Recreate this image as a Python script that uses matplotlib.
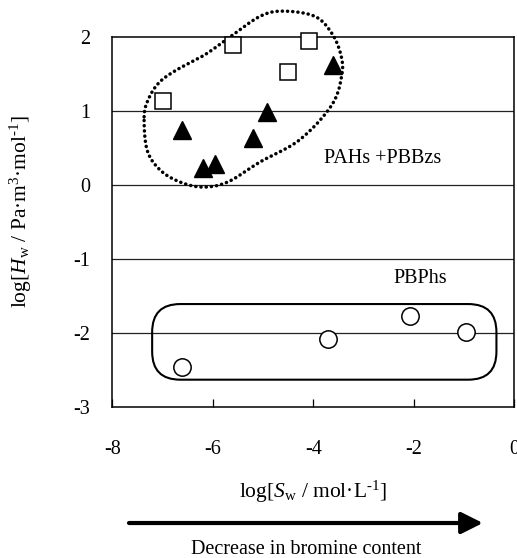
import numpy as np
import matplotlib
matplotlib.use('Agg')
import matplotlib.pyplot as plt
from matplotlib.patches import FancyBboxPatch, FancyArrowPatch, ArrowStyle

plt.rcParams['font.family'] = ['Liberation Serif', 'DejaVu Serif']
plt.rcParams['mathtext.fontset'] = 'custom'
plt.rcParams['mathtext.rm'] = 'Liberation Serif'
plt.rcParams['mathtext.it'] = 'Liberation Serif:italic'
plt.rcParams['axes.unicode_minus'] = False

# data: log Sw, log Hw
pah_x = [-6.99, -5.59, -4.51, -4.08]
pah_y = [1.14, 1.89, 1.52, 1.94]
pbbz_x = [-6.61, -6.19, -5.96, -5.20, -4.93, -3.61]
pbbz_y = [0.74, 0.23, 0.28, 0.63, 0.98, 1.62]
pbph_x = [-6.61, -3.70, -2.07, -0.96]
pbph_y = [-2.46, -2.08, -1.77, -1.99]

xticks = [-8, -6, -4, -2, 0]
yticks = [-3, -2, -1, 0, 1, 2]

# outline of the PAHs + PBBzs group (hand-drawn loop)
loop_x = [-7.37, -7.29, -7.09, -6.76, -6.16, -5.66, -5.06, -4.60, -3.97, -3.63,
          -3.45, -3.43, -3.63, -4.27, -5.06, -5.70, -6.20, -6.66, -7.05, -7.31]
loop_y = [0.92, 1.15, 1.37, 1.54, 1.76, 2.00, 2.28, 2.35, 2.28, 2.05,
          1.76, 1.49, 1.08, 0.61, 0.31, 0.04, -0.03, 0.04, 0.20, 0.47]


def closed_spline(xs, ys, n=30):
    p = np.column_stack([xs, ys])
    m = len(p)
    out = []
    t = np.linspace(0, 1, n, endpoint=False)[:, None]
    for i in range(m):
        p0, p1, p2, p3 = p[i - 1], p[i], p[(i + 1) % m], p[(i + 2) % m]
        seg = 0.5 * ((2 * p1) + (-p0 + p2) * t + (2 * p0 - 5 * p1 + 4 * p2 - p3) * t ** 2
                     + (-p0 + 3 * p1 - 3 * p2 + p3) * t ** 3)
        out.append(seg)
    out = np.vstack(out)
    out = np.vstack([out, out[:1]])
    return out[:, 0], out[:, 1]


fig = plt.figure(figsize=(5.17, 5.58), dpi=100)
ax = fig.add_axes([0.2176, 0.2712, 0.7766, 0.6625])

ax.set_xlim(-8, 0)
ax.set_ylim(-3, 2)
ax.set_xticks(xticks)
ax.set_yticks(yticks)
ax.set_xticklabels([str(v) for v in xticks])
ax.set_yticklabels([str(v) for v in yticks])
for v in yticks[1:-1]:
    ax.axhline(v, color='#222222', lw=0.9, zorder=1)

for s in ax.spines.values():
    s.set_linewidth(1.1)
ax.tick_params(axis='x', direction='in', length=6, width=0.9, pad=24, labelsize=14.5)
ax.tick_params(axis='y', length=0, pad=16, labelsize=14.5)

ax.plot(pah_x, pah_y, 's', ms=11.5, mfc='white', mec='black', mew=1.1, zorder=4, clip_on=False)
ax.plot(pbbz_x, pbbz_y, '^', ms=13, mfc='black', mec='black', mew=1, zorder=4)
ax.plot(pbph_x, pbph_y, 'o', ms=12.5, mfc='white', mec='black', mew=1.1, zorder=4)

lx, ly = closed_spline(loop_x, loop_y)
ax.plot(lx, ly, color='black', lw=2.5, linestyle=(0, (0.05, 1.45)),
        dash_capstyle='round', solid_capstyle='round', clip_on=False, zorder=3)

box = FancyBboxPatch((-7.21, -2.635), 6.86, 1.023,
                     boxstyle='round,pad=0,rounding_size=0.56',
                     mutation_aspect=0.678, fc='none', ec='black', lw=1.5, zorder=3)
ax.add_patch(box)

ax.text(-2.62, 0.36, 'PAHs +PBBzs', fontsize=14.5, ha='center', va='center')
ax.text(-1.87, -1.27, 'PBPhs', fontsize=14.5, ha='center', va='center')

ax.set_xlabel(r'log[$\mathit{S}_{\rm w}$ / mol·L$^{\text{-}1}$]', fontsize=15.5, labelpad=14)
ax.set_ylabel(r'log[$\mathit{H}_{\rm w}$ / Pa·m$^{3}$·mol$^{\text{-}1}$]', fontsize=15.5)
ax.yaxis.set_label_coords(-0.195, 0.527)

arrow = FancyArrowPatch((0.2495, 0.0627), (0.934, 0.0627), transform=fig.transFigure,
                        arrowstyle=ArrowStyle('-|>', head_length=13, head_width=6.5),
                        mutation_scale=1, lw=3, color='black', shrinkA=0, shrinkB=0)
fig.patches.append(arrow)
fig.text(0.592, 0.016, 'Decrease in bromine content', fontsize=14.5, ha='center', va='center')

fig.savefig('out.png', dpi=100)
